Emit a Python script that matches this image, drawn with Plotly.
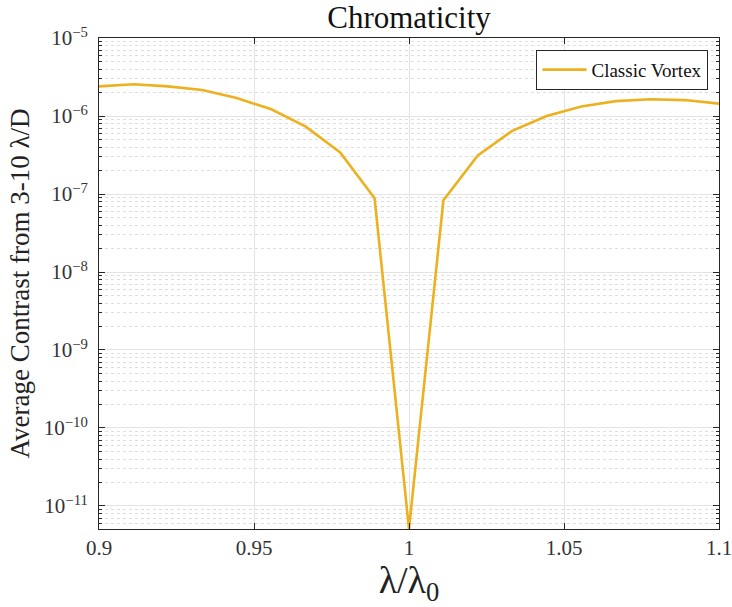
import numpy as np
import plotly.graph_objects as go

wavelength = [0.9, 0.9111, 0.9222, 0.9333, 0.9444, 0.9556, 0.9667, 0.9778, 0.9889, 1.0,
              1.0111, 1.0222, 1.0333, 1.0444, 1.0556, 1.0667, 1.0778, 1.0889, 1.1]
contrast = [2.4e-6, 2.55e-6, 2.4e-6, 2.16e-6, 1.7e-6, 1.22e-6, 7.3e-7, 3.4e-7, 8.8e-8, 5.07e-12,
            8.3e-8, 3.13e-7, 6.45e-7, 1.0e-6, 1.32e-6, 1.55e-6, 1.64e-6, 1.6e-6, 1.44e-6]
series_name = "Classic Vortex"
x_ticks = [0.9, 0.95, 1.0, 1.05, 1.1]
x_ticktext = ["0.9", "0.95", "1", "1.05", "1.1"]
y_exps = [-11, -10, -9, -8, -7, -6, -5]

font_family = "Liberation Serif, DejaVu Serif, serif"
axis_color = "#262626"
grid_color = "#e3e3e3"

fig = go.Figure()
fig.add_trace(go.Scatter(
    x=wavelength, y=contrast, mode="lines", name=series_name,
    line=dict(color="#EDB120", width=2.6),
))

fig.update_layout(
    width=732, height=607,
    margin=dict(l=99, r=13, t=38, b=78, autoexpand=False),
    paper_bgcolor="white", plot_bgcolor="white",
    font=dict(family=font_family, color=axis_color, size=16),
    title=dict(text="Chromaticity", x=(99 + 719) / 2 / 732, xanchor="center",
               y=1 - 17 / 607, yanchor="middle", font=dict(size=31, color="#111")),
    showlegend=True,
    legend=dict(x=0.983, y=0.976, xanchor="right", yanchor="top",
                bgcolor="white", bordercolor=axis_color, borderwidth=1,
                font=dict(size=19, color="#111"), itemwidth=44,
                tracegroupgap=0),
)

fig.update_xaxes(
    range=[0.9, 1.1], tickvals=x_ticks, ticktext=x_ticktext,
    showline=True, linecolor=axis_color, linewidth=1, mirror="ticks",
    ticks="inside", ticklen=6, tickcolor=axis_color, automargin=False,
    ticklabeloverflow="allow",
    showgrid=True, gridcolor=grid_color, gridwidth=1, zeroline=False,
    tickfont=dict(size=21, color="#333"),
    title=dict(text="λ/λ<sub>0</sub>", font=dict(size=38, color="#222"), standoff=10),
)

fig.update_yaxes(
    type="log", range=[np.log10(5.07e-12), -5],
    tickvals=[10.0 ** e for e in y_exps],
    ticktext=["10<sup>−%d</sup>" % (-e) for e in y_exps],
    showline=True, linecolor=axis_color, linewidth=1, mirror="ticks",
    ticks="inside", ticklen=6, tickcolor=axis_color, automargin=False,
    ticklabelstandoff=6, ticklabeloverflow="allow",
    showgrid=True, gridcolor=grid_color, gridwidth=1, zeroline=False,
    minor=dict(dtick="D1", ticks="inside", ticklen=3, tickcolor=axis_color, showgrid=True,
               gridcolor="#dedede", griddash="dot", gridwidth=1),
    tickfont=dict(size=21, color="#333"),
    title=dict(text="Average Contrast from 3-10 λ/D", font=dict(size=27, color="#222"), standoff=6),
)

fig.write_html("out.html")
